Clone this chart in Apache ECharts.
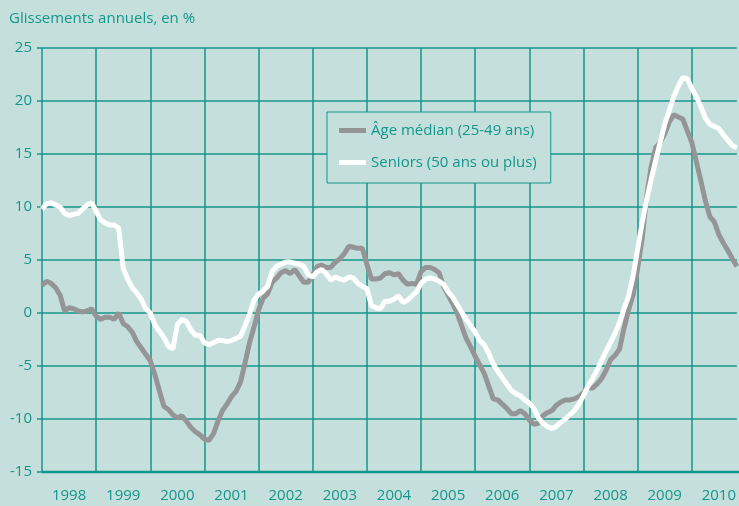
<!DOCTYPE html>
<html>
<head>
<meta charset="utf-8">
<script src="https://cdn.jsdelivr.net/npm/echarts@6/dist/echarts.min.js"></script>
<style>
html, body { margin: 0; padding: 0; background: #c5e0dc; }
#chart { width: 739px; height: 506px; }
</style>
</head>
<body>
<div id="chart"></div>
<script>
// annees affichees sous l'axe
var years = ['1998', '1999', '2000', '2001', '2002', '2003', '2004', '2005', '2006', '2007', '2008', '2009', '2010'];

// glissements annuels mensuels, janvier 1998 -> novembre 2010
var ageMedian = [
  2.6, 3.0, 2.8, 2.4, 1.7, 0.2, 0.5, 0.4, 0.2, 0.1, 0.2, 0.4,
  -0.3, -0.6, -0.4, -0.4, -0.6, 0.0, -1.0, -1.3, -1.8, -2.7, -3.3, -3.9,
  -4.5, -5.8, -7.3, -8.8, -9.1, -9.6, -9.9, -9.7, -10.2, -10.8, -11.2, -11.5,
  -11.9, -12.0, -11.4, -10.2, -9.2, -8.6, -7.9, -7.4, -6.5, -4.7, -2.8, -1.3,
  0.3, 1.4, 1.8, 2.9, 3.3, 3.8, 4.0, 3.7, 4.1, 3.5, 2.9, 2.9,
  3.6, 4.4, 4.5, 4.3, 4.3, 4.8, 5.1, 5.6, 6.3, 6.2, 6.1, 6.1,
  4.6, 3.2, 3.2, 3.3, 3.7, 3.8, 3.6, 3.7, 3.1, 2.7, 2.8, 2.7,
  3.9, 4.3, 4.3, 4.1, 3.8, 2.5, 1.7, 0.9, 0.0, -1.2, -2.4, -3.2,
  -4.1, -4.9, -5.7, -6.9, -8.1, -8.2, -8.6, -9.0, -9.5, -9.5, -9.2, -9.5,
  -10.1, -10.5, -10.4, -9.7, -9.4, -9.2, -8.7, -8.4, -8.2, -8.2, -8.1, -7.9,
  -7.5, -7.0, -7.1, -6.7, -6.2, -5.4, -4.4, -4.0, -3.4, -1.4, 0.3, 1.7,
  4.2, 7.0, 11.0, 13.8, 15.6, 16.1, 16.9, 18.0, 18.7, 18.5, 18.3, 17.2,
  16.1, 14.3, 12.5, 10.6, 9.1, 8.6, 7.4, 6.6, 5.9, 5.1, 4.4
];

var seniors = [
  9.8, 10.3, 10.4, 10.2, 10.0, 9.4, 9.2, 9.3, 9.4, 9.8, 10.2, 10.4,
  9.6, 8.8, 8.5, 8.3, 8.3, 8.0, 4.2, 3.2, 2.4, 1.9, 1.3, 0.4,
  0.0, -1.1, -1.7, -2.3, -3.1, -3.4, -1.1, -0.6, -0.8, -1.6, -2.1, -2.1,
  -2.8, -3.0, -2.8, -2.6, -2.6, -2.7, -2.6, -2.4, -2.2, -1.2, -0.1, 1.2,
  1.8, 2.1, 2.5, 3.9, 4.4, 4.6, 4.8, 4.8, 4.7, 4.6, 4.4, 3.6,
  3.4, 3.9, 4.1, 3.7, 3.1, 3.4, 3.2, 3.1, 3.4, 3.3, 2.8, 2.5,
  2.3, 0.7, 0.5, 0.4, 1.1, 1.1, 1.3, 1.6, 1.0, 1.2, 1.6, 2.0,
  2.8, 3.2, 3.3, 3.2, 3.0, 2.7, 2.0, 1.5, 0.8, 0.1, -0.6, -1.2,
  -1.8, -2.6, -3.0, -3.8, -4.8, -5.5, -6.1, -6.7, -7.3, -7.6, -7.8, -8.2,
  -8.5, -9.0, -9.9, -10.4, -10.7, -10.9, -10.7, -10.3, -10.0, -9.6, -9.2, -8.6,
  -7.8, -6.9, -6.2, -5.4, -4.5, -3.6, -2.8, -1.9, -0.9, 0.4, 1.6, 3.5,
  6.0, 8.5, 10.7, 12.6, 14.4, 16.1, 17.8, 19.1, 20.4, 21.4, 22.2, 22.1,
  21.2, 20.4, 19.5, 18.4, 17.8, 17.6, 17.4, 16.8, 16.3, 15.8, 15.6
];

var seriesNames = ['Âge médian (25-49 ans)', 'Seniors (50 ans ou plus)'];

var teal = '#13968a';
var font = 'Open Sans';

// un point par mois
var months = [];
years.forEach(function (y) {
  for (var m = 1; m <= 12; m++) months.push(y + '-' + m);
});
months = months.slice(0, ageMedian.length);

var myChart = echarts.init(document.getElementById('chart'));
myChart.setOption({
  backgroundColor: '#c5e0dc',
  animation: false,
  title: {
    text: 'Glissements annuels, en %',
    left: 4, top: 6,
    textStyle: { color: teal, fontSize: 15, fontWeight: 'normal', fontFamily: font }
  },
  legend: {
    orient: 'vertical',
    left: 327, top: 112,
    padding: [11, 14, 13, 12],
    itemWidth: 27, itemHeight: 5,
    itemGap: 17,
    icon: 'rect',
    borderColor: teal, borderWidth: 1,
    backgroundColor: '#c5e0dc',
    textStyle: { color: teal, fontSize: 15, fontFamily: font },
    data: seriesNames
  },
  grid: { left: 42, right: 0, top: 48, bottom: 34 },
  xAxis: {
    type: 'category',
    boundaryGap: false,
    data: months,
    axisLine: { show: false },
    axisTick: { show: false },
    axisLabel: {
      color: teal, fontSize: 15, fontFamily: font, margin: 16,
      interval: function (i) { return i % 12 === 6; },
      formatter: function (v) { return v.split('-')[0]; }
    },
    splitLine: {
      show: true,
      interval: function (i) { return i % 12 === 0; },
      lineStyle: { color: teal, width: 1.5 }
    }
  },
  yAxis: {
    type: 'value',
    min: -15, max: 25, interval: 5,
    axisLine: { show: false },
    axisTick: { show: true, length: 5, lineStyle: { color: teal, width: 1.5 } },
    axisLabel: { color: teal, fontSize: 15, fontFamily: font, margin: 10 },
    splitLine: { lineStyle: { color: teal, width: 1.5 } }
  },
  series: [
    {
      name: seriesNames[0], type: 'line', data: ageMedian,
      showSymbol: false, color: '#959597',
      lineStyle: { width: 5, color: '#959597' }
    },
    {
      name: seriesNames[1], type: 'line', data: seniors,
      showSymbol: false, color: '#ffffff',
      lineStyle: { width: 5, color: '#ffffff' }
    }
  ],
  graphic: [{
    type: 'line',
    shape: { x1: 42, y1: 472, x2: 739, y2: 472 },
    style: { stroke: teal, lineWidth: 2.5 }
  }]
});
</script>
</body>
</html>
